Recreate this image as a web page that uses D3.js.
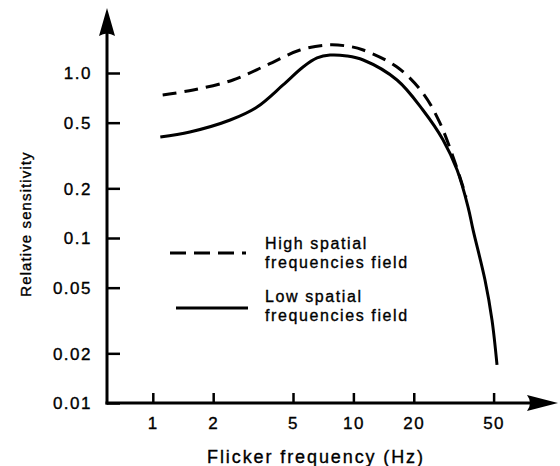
<!DOCTYPE html>
<html>
<head>
<meta charset="utf-8">
<script src="https://cdn.jsdelivr.net/npm/d3@7/dist/d3.min.js"></script>
<style>
    html, body { margin: 0; padding: 0; background: #fff; }
    #root { width: 560px; height: 466px; }
    text { font-family: "Liberation Sans", Arial, sans-serif; fill: #000; stroke: #000; stroke-width: 0.35px; }
</style>
</head>
<body>
<div id="root"></div>
<script>
    // tick values
    const xTicks = [1, 2, 5, 10, 20, 50];
    const yTicks = [0.01, 0.02, 0.05, 0.1, 0.2, 0.5, 1.0];
    const yTickLabels = ['0.01', '0.02', '0.05', '0.1', '0.2', '0.5', '1.0'];

    // low spatial frequencies field (solid)
    const lowFreq = [1.09, 1.53, 2.43, 3.31, 4.46, 5.61, 6.59, 7.65, 9.29, 11.2, 16.5, 22.2, 28.0, 32.9, 37.3, 39.5, 45.3, 49.1, 52.0];
    const lowSens = [0.409, 0.439, 0.519, 0.622, 0.846, 1.087, 1.233, 1.285, 1.268, 1.199, 0.907, 0.597, 0.393, 0.258, 0.154, 0.112, 0.0556, 0.0318, 0.017];

    // high spatial frequencies field (dashed)
    const highFreq = [1.12, 1.59, 2.51, 3.71, 5.42, 7.38, 9.29, 11.2, 16.5, 22.2, 27.0, 31.4, 35.2, 36.4];
    const highSens = [0.736, 0.789, 0.907, 1.118, 1.378, 1.478, 1.457, 1.378, 1.087, 0.756, 0.498, 0.310, 0.204, 0.177];

    const legendLabels = [['High spatial', 'frequencies field'], ['Low spatial', 'frequencies field']];

    const width = 560, height = 466;
    const axisX = 107, axisY = 403;   // where the two axes meet

    const x = d3.scaleLog().domain([1, 50]).range([152.8, 493.6]);
    const y = d3.scaleLog().domain([0.01, 1]).range([403, 73]);

    const svg = d3.select('#root').append('svg')
        .attr('width', width)
        .attr('height', height);

    const line = d3.line()
        .x(d => x(d[0]))
        .y(d => y(d[1]))
        .curve(d3.curveCatmullRom.alpha(0.5));

    // curves
    svg.append('path')
        .datum(d3.zip(highFreq, highSens))
        .attr('d', line)
        .attr('fill', 'none')
        .attr('stroke', '#000')
        .attr('stroke-width', 3)
        .attr('stroke-dasharray', '14,8');

    svg.append('path')
        .datum(d3.zip(lowFreq, lowSens))
        .attr('d', line)
        .attr('fill', 'none')
        .attr('stroke', '#000')
        .attr('stroke-width', 3);

    // y axis: inward ticks, labels on the left
    const yAxis = svg.append('g').attr('transform', `translate(${axisX},0)`)
        .call(d3.axisRight(y).tickValues(yTicks).tickSize(13)
            .tickFormat((d, i) => yTickLabels[i]));
    yAxis.select('.domain').remove();
    yAxis.selectAll('.tick line').attr('stroke', '#000').attr('stroke-width', 2.5);
    yAxis.selectAll('.tick text')
        .attr('x', -15).attr('dy', '0.35em')
        .attr('text-anchor', 'end')
        .style('font-size', '17px')
        .style('letter-spacing', '1.5px');

    // x axis: ticks pointing up, labels below
    const xAxis = svg.append('g').attr('transform', `translate(0,${axisY})`)
        .call(d3.axisTop(x).tickValues(xTicks).tickSize(10).tickFormat(d3.format('d')));
    xAxis.select('.domain').remove();
    xAxis.selectAll('.tick line').attr('stroke', '#000').attr('stroke-width', 2.5);
    xAxis.selectAll('.tick text')
        .attr('y', 26).attr('dy', 0)
        .attr('text-anchor', 'middle')
        .style('font-size', '17px')
        .style('letter-spacing', '1.5px');

    // axis lines with arrow heads
    svg.append('line')
        .attr('x1', axisX).attr('y1', axisY + 1.5)
        .attr('x2', axisX).attr('y2', 30)
        .attr('stroke', '#000').attr('stroke-width', 3);
    svg.append('path')
        .attr('d', `M ${axisX} 8 L ${axisX + 8} 36 Q ${axisX} 31 ${axisX - 8} 36 Z`)
        .attr('fill', '#000');

    svg.append('line')
        .attr('x1', axisX - 1.5).attr('y1', axisY)
        .attr('x2', 535).attr('y2', axisY)
        .attr('stroke', '#000').attr('stroke-width', 3);
    svg.append('path')
        .attr('d', `M 558 ${axisY} L 527 ${axisY - 8} Q 533 ${axisY} 527 ${axisY + 8} Z`)
        .attr('fill', '#000');

    // axis titles
    svg.append('text')
        .attr('x', 316).attr('y', 463)
        .attr('text-anchor', 'middle')
        .style('font-size', '18px')
        .style('letter-spacing', '1.9px')
        .text('Flicker frequency (Hz)');

    svg.append('text')
        .attr('transform', 'translate(31,224) rotate(-90)')
        .attr('text-anchor', 'middle')
        .style('font-size', '15px')
        .style('letter-spacing', '1.1px')
        .text('Relative sensitivity');

    // legend
    const legend = svg.append('g');
    const legendRows = [
        { y1: 253, dash: '16,8', x1: 170, x2: 246, textY: [249, 268] },
        { y1: 308, dash: null, x1: 176, x2: 248, textY: [302, 321] }
    ];
    legendRows.forEach((r, i) => {
        const ln = legend.append('line')
            .attr('x1', r.x1).attr('x2', r.x2)
            .attr('y1', r.y1).attr('y2', r.y1)
            .attr('stroke', '#000').attr('stroke-width', 3);
        if (r.dash) ln.attr('stroke-dasharray', r.dash);
        legendLabels[i].forEach((t, j) => {
            legend.append('text')
                .attr('x', 265).attr('y', r.textY[j])
                .style('font-size', '16px')
                .style('letter-spacing', '1.6px')
                .text(t);
        });
    });
</script>
</body>
</html>
